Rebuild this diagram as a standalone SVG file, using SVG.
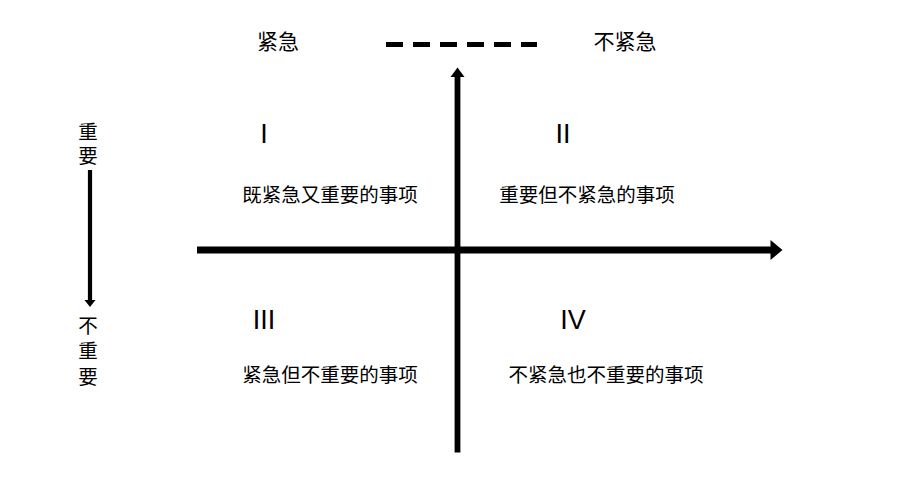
<svg xmlns="http://www.w3.org/2000/svg" width="900" height="500" viewBox="0 0 900 500">
<style>
.cjk{font-family:"Noto Sans CJK SC","Liberation Sans",sans-serif;font-size:19.5px;fill:#000;text-anchor:middle}
.top{font-size:21px}
.vert{font-family:"Noto Sans CJK SC","Liberation Sans",sans-serif;font-size:19.5px;fill:#000;writing-mode:vertical-rl;text-anchor:start}
.roman{font-family:"Liberation Sans",Arial,sans-serif;font-size:27px;fill:#000;text-anchor:middle}
.axis{stroke:#000;fill:none}
.head{fill:#000;stroke:none}
</style>
<rect width="900" height="500" fill="#fff"/>
<g id="connectors">
  <line class="axis" x1="197" y1="250" x2="772" y2="250" stroke-width="7"/>
  <polygon class="head" points="770.5,240 782.5,250 770.5,260"/>
  <line class="axis" x1="457.5" y1="452.5" x2="457.5" y2="76" stroke-width="5.8"/>
  <polygon class="head" points="450.5,77 457.5,67.5 464.5,77"/>
  <line class="axis" x1="386" y1="44.5" x2="537" y2="44.5" stroke-width="4.8" stroke-dasharray="17 10"/>
  <line class="axis" x1="90" y1="170" x2="90" y2="301" stroke-width="4.2"/>
  <polygon class="head" points="84.5,300 95.5,300 90,307"/>
</g>
<g id="label-urgent"><text class="cjk top" x="278" y="48.5">紧急</text></g>
<g id="label-not-urgent"><text class="cjk top" x="625" y="48.5">不紧急</text></g>
<g id="label-important">
  <text class="vert" x="88" y="121.5" letter-spacing="4.5">重要</text>
</g>
<g id="label-not-important">
  <text class="vert" x="88" y="315.5" letter-spacing="6">不重要</text>
</g>
<g id="quadrant-1">
  <text class="roman" x="264" y="143">I</text>
  <text class="cjk" x="330" y="202">既紧急又重要的事项</text>
</g>
<g id="quadrant-2">
  <text class="roman" x="563" y="143">II</text>
  <text class="cjk" x="587" y="202">重要但不紧急的事项</text>
</g>
<g id="quadrant-3">
  <text class="roman" x="264" y="329">III</text>
  <text class="cjk" x="330" y="382">紧急但不重要的事项</text>
</g>
<g id="quadrant-4">
  <text class="roman" x="573" y="329">IV</text>
  <text class="cjk" x="606" y="382">不紧急也不重要的事项</text>
</g>
</svg>
